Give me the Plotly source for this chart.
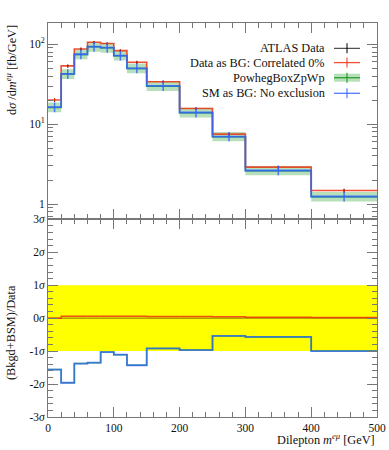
import numpy as np
import plotly.graph_objects as go

# ---------------- data ----------------
edges = [0, 20, 40, 60, 80, 100, 120, 150, 200, 250, 300, 400, 500]
data_vals = [20.0, 53.3, 87.0, 105.5, 101.5, 82.8, 59.3, 33.8, 15.6, 7.45, 2.88, 1.47]
data_err = [1.0, 2.4, 3.6, 4.2, 4.1, 3.4, 2.5, 1.3, 0.6, 0.32, 0.13, 0.08]
red_vals = [20.1, 53.6, 87.4, 106.0, 102.0, 83.2, 59.6, 34.0, 15.7, 7.5, 2.9, 1.48]
red_err = [1.0, 2.4, 3.6, 4.2, 4.1, 3.4, 2.5, 1.3, 0.6, 0.32, 0.13, 0.08]
blue_vals = [16.3, 42.5, 75.0, 93.3, 90.7, 72.0, 50.0, 30.1, 14.0, 7.0, 2.63, 1.245]
powheg_vals = [16.2, 42.3, 74.6, 92.8, 90.2, 71.6, 49.7, 29.9, 13.9, 6.95, 2.61, 1.235]
powheg_lo = [14.1, 36.8, 65.0, 80.8, 78.5, 62.4, 43.3, 26.0, 12.1, 6.1, 2.29, 1.08]
powheg_hi = [18.7, 48.8, 86.0, 107.0, 104.0, 82.6, 57.4, 34.2, 16.0, 8.0, 3.0, 1.42]

blue_sig = [-1.56, -1.96, -1.38, -1.35, -1.03, -1.11, -1.43, -0.92, -0.97, -0.54, -0.57, -1.0]
red_sig = [0.0, 0.06, 0.06, 0.06, 0.06, 0.06, 0.06, 0.05, 0.05, 0.04, 0.03, 0.02]
data_sig = [0.0, 0.0, 0.0, 0.0, 0.0, 0.0, 0.0, 0.0, 0.0, 0.0, 0.0, 0.0]
band_sig = [-1.0, 1.0]

ytop_ticks = [1, 10, 100]
ytop_text = ["1", "10<sup>1</sup>", "10<sup>2</sup>"]
ybot_ticks = [-3, -2, -1, 0, 1, 2, 3]
ybot_text = ["-3<i>σ</i>", "-2<i>σ</i>", "-1<i>σ</i>", "0<i>σ</i>", "1<i>σ</i>", "2<i>σ</i>", "3<i>σ</i>"]
x_ticks = [0, 100, 200, 300, 400, 500]

legend_labels = ["ATLAS Data", "Data as BG: Correlated 0%", "PowhegBoxZpWp", "SM as BG: No exclusion"]

# ---------------- styling ----------------
FONT = "Liberation Serif"
BLACK = "#000000"
RED = "#EE3311"
GREEN = "#109618"
BLUE = "#3366FF"
BANDFILL = "rgba(16,150,24,0.30)"
AXC = "#777777"

W, H = 389, 450
ML, MR, MT, MB = 48, 12, 23, 33
PW = W - ML - MR
PH = H - MT - MB
split = (417 - 219.3) / PH

edges = np.array(edges, dtype=float)
centers = 0.5 * (edges[:-1] + edges[1:])


def step(vals):
    v = list(vals)
    return list(edges), v + [v[-1]]


fig = go.Figure()

# ---------- top panel ----------
xs, ylo = step(powheg_lo)
_, yhi = step(powheg_hi)
fig.add_trace(go.Scatter(x=xs, y=ylo, mode="lines", line=dict(width=0, shape="hv"),
                         hoverinfo="skip", showlegend=False, xaxis="x", yaxis="y"))
fig.add_trace(go.Scatter(x=xs, y=yhi, mode="lines", line=dict(width=0, shape="hv"),
                         fill="tonexty", fillcolor=BANDFILL, hoverinfo="skip",
                         showlegend=False, xaxis="x", yaxis="y"))

for vals, col, wd in [(powheg_vals, GREEN, 1.5), (red_vals, RED, 1.6), (blue_vals, BLUE, 1.8)]:
    sx, sy = step(vals)
    fig.add_trace(go.Scatter(x=sx, y=sy, mode="lines", line=dict(color=col, width=wd, shape="hv"),
                             opacity=0.85, showlegend=False, xaxis="x", yaxis="y"))

# error bars
fig.add_trace(go.Scatter(x=centers, y=data_vals, mode="markers", marker=dict(size=1, color=BLACK),
                         error_y=dict(type="data", array=data_err, color=BLACK, thickness=1, width=0),
                         showlegend=False, xaxis="x", yaxis="y"))
fig.add_trace(go.Scatter(x=centers, y=red_vals, mode="markers", marker=dict(size=1, color=RED),
                         error_y=dict(type="data", array=red_err, color=RED, thickness=1.2, width=0),
                         opacity=0.8, showlegend=False, xaxis="x", yaxis="y"))
bhi = [h - v for h, v in zip(powheg_hi, blue_vals)]
blo = [v - l for l, v in zip(powheg_lo, blue_vals)]
fig.add_trace(go.Scatter(x=centers, y=blue_vals, mode="markers", marker=dict(size=1, color=BLUE),
                         error_y=dict(type="data", array=bhi, arrayminus=blo, color=BLUE,
                                      thickness=1.5, width=0),
                         opacity=0.85, showlegend=False, xaxis="x", yaxis="y"))

# ---------- bottom panel ----------
fig.add_shape(type="rect", xref="x2", yref="y2", x0=edges[0], x1=edges[-1],
              y0=band_sig[0], y1=band_sig[1], fillcolor="#FFFF00", line=dict(width=0), layer="below")

for vals, col, wd, op in [(data_sig, "#553300", 1.0, 0.7), (red_sig, RED, 1.5, 0.85),
                          (blue_sig, GREEN, 1.5, 0.8), (blue_sig, BLUE, 1.8, 0.75)]:
    sx, sy = step(vals)
    fig.add_trace(go.Scatter(x=sx, y=sy, mode="lines", line=dict(color=col, width=wd, shape="hv"),
                             opacity=op, showlegend=False, xaxis="x2", yaxis="y2"))

# ---------- legend (manual, right-aligned text with sample on the right) ----------
def px2x(px):
    return (px - ML) / PW


def py2y(py):
    return (H - MB - py) / PH


rows = [48.3, 62.6, 77.7, 93.3]
cols = [BLACK, RED, GREEN, BLUE]
for lab, ry, col in zip(legend_labels, rows, cols):
    fig.add_annotation(xref="paper", yref="paper", x=px2x(327), y=py2y(ry), text=lab,
                       showarrow=False, xanchor="right", yanchor="middle",
                       font=dict(family=FONT, size=12.3, color="#111"))
    if col == GREEN:
        fig.add_shape(type="rect", xref="paper", yref="paper", x0=px2x(334), x1=px2x(360),
                      y0=py2y(ry + 4), y1=py2y(ry - 4), fillcolor=BANDFILL, line=dict(width=0))
    fig.add_shape(type="line", xref="paper", yref="paper", x0=px2x(334), x1=px2x(360),
                  y0=py2y(ry), y1=py2y(ry), line=dict(color=col, width=1.3 if col != BLACK else 1),
                  opacity=0.85)
    fig.add_shape(type="line", xref="paper", yref="paper", x0=px2x(347), x1=px2x(347),
                  y0=py2y(ry - 5), y1=py2y(ry + 5), line=dict(color=col, width=1.2), opacity=0.85)

# axis titles
fig.add_annotation(xref="paper", yref="paper", x=px2x(11), y=1.0,
                   text="d<i>σ</i> /d<i>m</i><sup><i>eμ</i></sup> [fb/GeV]", textangle=-90,
                   showarrow=False, xanchor="center", yanchor="top",
                   font=dict(family=FONT, size=12.3, color="#111"))
fig.add_annotation(xref="paper", yref="paper", x=px2x(11), y=py2y(333),
                   text="(Bkgd+BSM)/Data", textangle=-90,
                   showarrow=False, xanchor="center", yanchor="middle",
                   font=dict(family=FONT, size=12.3, color="#111"))
fig.add_annotation(xref="paper", yref="paper", x=px2x(377), y=py2y(439),
                   text="Dilepton <i>m</i><sup><i>eμ</i></sup> [GeV]",
                   showarrow=False, xanchor="right", yanchor="middle",
                   font=dict(family=FONT, size=12.3, color="#111"))

common_x = dict(range=[edges[0], edges[-1]], showgrid=False, zeroline=False, automargin=False,
                showline=True, linecolor=AXC, linewidth=1, mirror="ticks",
                ticks="inside", ticklen=10, tickcolor=AXC, tickwidth=1,
                tickvals=x_ticks,
                minor=dict(dtick=20, ticks="inside", ticklen=5, tickcolor=AXC, tickwidth=1))

top_minor = []
for dec in [0.1, 1, 10, 100]:
    for m in range(2, 10):
        v = m * dec
        if 0.64 < v < 184:
            top_minor.append(v)

fig.update_layout(
    width=W, height=H, margin=dict(l=ML, r=MR, t=MT, b=MB, autoexpand=False),
    paper_bgcolor="white", plot_bgcolor="white", showlegend=False,
    font=dict(family=FONT, size=12, color="#111"),
    xaxis=dict(common_x, anchor="y", showticklabels=False, matches="x2"),
    xaxis2=dict(common_x, anchor="y2", showticklabels=True, tickfont=dict(size=11.5)),
    yaxis=dict(type="log", domain=[split, 1], range=[np.log10(0.645), 2.266], anchor="x",
               automargin=False,
               showgrid=False, zeroline=False, showline=True, linecolor=AXC, mirror="ticks",
               ticks="inside", ticklen=10, tickcolor=AXC, tickvals=ytop_ticks, ticktext=ytop_text,
               tickfont=dict(size=11.5),
               minor=dict(tickvals=top_minor, ticks="inside", ticklen=5, tickcolor=AXC)),
    yaxis2=dict(domain=[0, split], range=[-3, 3], anchor="x2", automargin=False,
                showgrid=False, zeroline=False, showline=True, linecolor=AXC, mirror="ticks",
                ticks="inside", ticklen=10, tickcolor=AXC, tickvals=ybot_ticks, ticktext=ybot_text,
                tickfont=dict(size=11.5),
                minor=dict(dtick=0.2, ticks="inside", ticklen=5, tickcolor=AXC)),
)

fig.write_html(
    "out.html",
    config={"displayModeBar": False, "responsive": False},
    post_script="document.body.style.margin='0';document.body.style.overflow='hidden';"
                "document.documentElement.style.overflow='hidden';",
)
